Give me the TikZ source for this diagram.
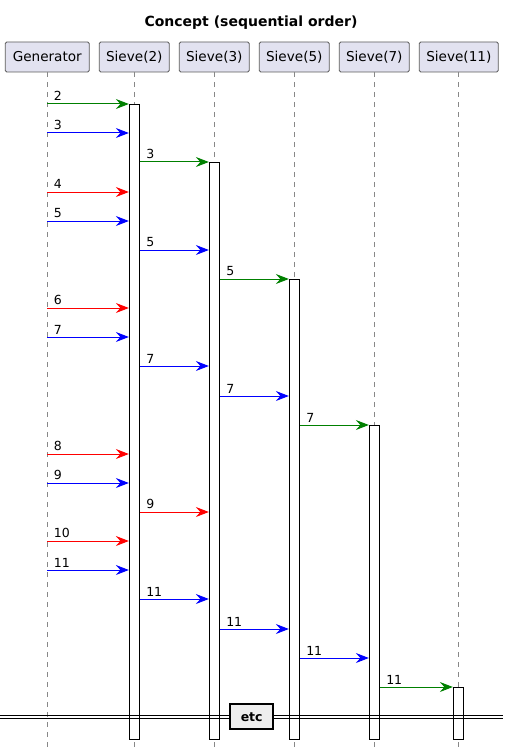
\documentclass[tikz,border=0pt]{standalone}
\usepackage{fontspec}
\setmainfont{DejaVu Sans}
\usetikzlibrary{arrows.meta}

\definecolor{partFill}{HTML}{E2E2F0}
\definecolor{partLine}{HTML}{5A5A5A}
\definecolor{lifeLine}{HTML}{888888}
\definecolor{msgGreen}{HTML}{008000}
\definecolor{msgBlue}{HTML}{0000FF}
\definecolor{msgRed}{HTML}{FF0000}
\definecolor{etcFill}{HTML}{EEEEEE}

\begin{document}
\begin{tikzpicture}[
  x=1pt, y=-1pt,
  every node/.style={inner sep=1pt},
  part/.style={draw=partLine, fill=partFill, rounded corners=1.5pt, line width=0.8pt,
    minimum height=30pt, inner sep=0pt, font=\fontsize{13.6}{16}\selectfont},
  life/.style={draw=lifeLine, line width=0.8pt, dash pattern=on 5pt off 5pt},
  act/.style={draw, fill=white, line width=0.9pt, minimum width=10pt, inner sep=0pt},
  msg/.style={draw, line width=1pt, -{Stealth[length=13pt, width=10pt, inset=4.5pt]}},
  lbl/.style={anchor=south west, xshift=6pt, yshift=2.5pt, inner sep=0pt,
    text=black, font=\fontsize{12.5}{15}\selectfont},
  divline/.style={draw, line width=0.9pt},
  etcbox/.style={draw, fill=etcFill, line width=1.6pt, minimum width=43pt,
    minimum height=25pt, inner sep=0pt, font=\bfseries\fontsize{12.5}{15}\selectfont}]

  \useasboundingbox (0,0) rectangle (509,754);

  % ---- title --------------------------------------------------------------
  \node[font=\bfseries\fontsize{14}{16}\selectfont] (title) at (251,23) {Concept (sequential order)};

  % ---- participants -------------------------------------------------------
  \node[part, minimum width=84pt] (gen) at (47.3,57) {Generator};
  \node[part, minimum width=70pt] (s2)  at (134.3,57) {Sieve(2)};
  \node[part, minimum width=70pt] (s3)  at (214.3,57) {Sieve(3)};
  \node[part, minimum width=70pt] (s5)  at (294.3,57) {Sieve(5)};
  \node[part, minimum width=70pt] (s7)  at (374.3,57) {Sieve(7)};
  \node[part, minimum width=79pt] (s11) at (458.8,57) {Sieve(11)};

  % ---- lifelines ----------------------------------------------------------
  \foreach \p in {gen,s2,s3,s5,s7,s11} {
    \coordinate (\p end) at (\p.south |- 0,748);
    \draw[life] (\p.south) -- (\p end);
  }

  % ---- activations --------------------------------------------------------
  \node[act, minimum height=635pt] (act2)  at (134.3,421.5) {};
  \node[act, minimum height=577pt] (act3)  at (214.3,450.5) {};
  \node[act, minimum height=460pt] (act5)  at (294.3,509) {};
  \node[act, minimum height=314pt] (act7)  at (374.3,582) {};
  \node[act, minimum height=52pt]  (act11) at (458.3,713) {};

  % ---- messages -----------------------------------------------------------
  % y / from / to / colour / text
  \foreach \y/\f/\t/\c/\txt in {
      104/gen/act2.west/msgGreen/2,
      133/gen/act2.west/msgBlue/3,
      162/act2.east/act3.west/msgGreen/3,
      192/gen/act2.west/msgRed/4,
      221/gen/act2.west/msgBlue/5,
      250/act2.east/act3.west/msgBlue/5,
      279/act3.east/act5.west/msgGreen/5,
      308/gen/act2.west/msgRed/6,
      337/gen/act2.west/msgBlue/7,
      366/act2.east/act3.west/msgBlue/7,
      396/act3.east/act5.west/msgBlue/7,
      425/act5.east/act7.west/msgGreen/7,
      454/gen/act2.west/msgRed/8,
      483/gen/act2.west/msgBlue/9,
      512/act2.east/act3.west/msgRed/9,
      541/gen/act2.west/msgRed/10,
      570/gen/act2.west/msgBlue/11,
      599/act2.east/act3.west/msgBlue/11,
      629/act3.east/act5.west/msgBlue/11,
      658/act5.east/act7.west/msgBlue/11,
      687/act7.east/act11.west/msgGreen/11} {
    \draw[msg, \c] (\f |- 0,\y) -- node[lbl, pos=0] {\txt} (\t |- 0,\y);
  }

  % ---- divider ------------------------------------------------------------
  \coordinate (divL) at (0,715.5);
  \coordinate (divR) at (503,715.5);
  \draw[divline] (divL) -- (divR);
  \draw[divline] ([yshift=-2.8pt]divL) -- ([yshift=-2.8pt]divR);
  \node[etcbox] (etc) at (251.7,716.7) {etc};
\end{tikzpicture}
\end{document}
